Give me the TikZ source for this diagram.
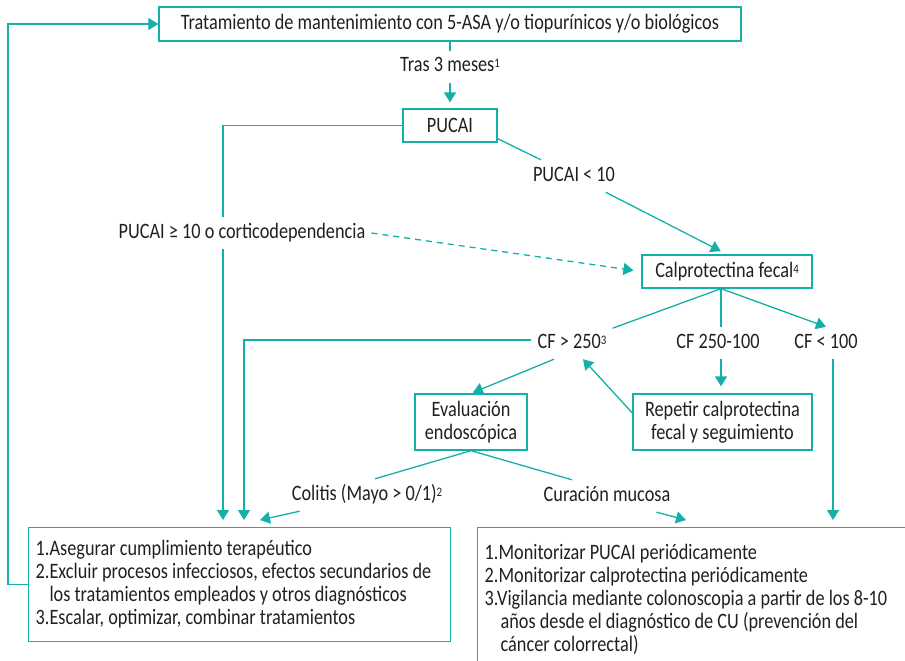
\documentclass[tikz,border=0pt]{standalone}
\usepackage{fontspec}
\setmainfont[FakeStretch=0.83]{Carlito}
\usepackage{xcolor}
\usepackage{tikz}
\usetikzlibrary{arrows.meta}
\definecolor{tealline}{HTML}{14AFA9}
\definecolor{darktext}{HTML}{231F20}
\newcommand{\sups}[1]{\raisebox{4pt}{\fontsize{13}{13}\selectfont #1}}
\tikzset{
	main node/.style={draw=tealline,line width=1.3pt,text=darktext,align=center,inner sep=0pt},
	label node/.style={text=darktext,inner sep=6pt,text height=15pt,text depth=5pt},
	list node/.style={draw=tealline,line width=1.3pt,text=darktext,align=flush left,
		inner xsep=7pt,anchor=north west},
	link/.style={draw=tealline,line width=1.3pt},
	arrow link/.style={link,->,shorten >=7pt}
}

\begin{document}
\begin{tikzpicture}[x=1pt,y=-1pt,>={Triangle[length=10pt,width=12pt]},
		font=\fontsize{22}{23}\selectfont]
	\useasboundingbox (0,0) rectangle (905,661);
	% boxes
	\node [main node,minimum width=582pt,minimum height=34pt] (top) at (450,24)
		{Tratamiento de mantenimiento con 5-ASA y/o tiopurínicos y/o biológicos};
	\node [main node,minimum width=94pt,minimum height=33pt] (pucai) at (450,125.5) {PUCAI};
	\node [main node,minimum width=170pt,minimum height=33pt] (calpro) at (727,271.5)
		{Calprotectina fecal\sups{4}};
	\node [main node,minimum width=112pt,minimum height=56pt] (evaluacion) at (471,422)
		{Evaluación\\endoscópica};
	\node [main node,minimum width=179pt,minimum height=56pt] (repetir) at (722.5,422)
		{Repetir calprotectina\\fecal y seguimiento};
	\node [list node,text width=408pt,inner ysep=13pt] (left) at (28,527)
		{1.Asegurar cumplimiento terapéutico\\
		2.Excluir procesos infecciosos, efectos secundarios de\\
		\phantom{2.}los tratamientos empleados y otros diagnósticos\\
		3.Escalar, optimizar, combinar tratamientos};
	\node [list node,text width=436pt,inner ysep=17pt] (right) at (477,527)
		{1.Monitorizar PUCAI periódicamente\\
		2.Monitorizar calprotectina periódicamente\\
		3.Vigilancia mediante colonoscopia a partir de los 8-10\\
		\hspace*{16pt}años desde el diagnóstico de CU (prevención del\\
		\hspace*{16pt}cáncer colorrectal)};
	% labels
	\node [label node] (tras) at (450,67) {Tras 3 meses\sups{1}};
	\node [label node] (pucailt) at (574,176) {PUCAI < 10};
	\node [label node] (pucaige) at (242,233) {PUCAI ≥ 10 o corticodependencia};
	\node [label node] (cfhigh) at (572,343) {CF > 250\sups{3}};
	\node [label node] (cfmid) at (718,343) {CF 250-100};
	\node [label node] (cflow) at (826,343) {CF < 100};
	\node [label node] (colitis) at (367,495) {Colitis (Mayo > 0/1)\sups{2}};
	\node [label node] (curacion) at (607,496) {Curación mucosa};
	% arrow ends above the lower boxes
	\coordinate (l1) at (223,520);
	\coordinate (l2) at (244,520);
	\coordinate (l3) at (260,520);
	\coordinate (r1) at (686,520);
	\coordinate (r2) at (833,520);
	\coordinate (cp) at ([xshift=-6pt]calpro.south);
	% connectors
	\draw [link] (top) -- (tras);
	\draw [link,->,shorten >=6pt] (tras) -- (pucai);
	\draw [link] (pucai.west) -| (pucaige.north -| l1);
	\draw [link,->] (pucaige.south -| l1) -- (l1);
	\draw [link] ([yshift=4pt]pucai.south east) -- (pucailt);
	\draw [arrow link] (pucailt) -- (calpro.north);
	\draw [link,->,dash pattern=on 6pt off 5pt,shorten >=8pt] (pucaige.east) -- (calpro.west);
	\draw [link] (cp) -- (cfhigh);
	\draw [link] (cp) -- (cp |- cfmid.north);
	\draw [link,->] (cp) -- (cflow.north);
	\draw [link,->] ([yshift=3pt]cfhigh.west) -| (l2);
	\draw [link,->] (cflow.south -| r2) -- (r2);
	\draw [arrow link] (cp |- cfmid.south) -- (cp |- repetir.north);
	\draw [link,->,shorten >=2pt] ([xshift=-18pt]cfhigh.south) -- (evaluacion.north);
	\draw [link,->] ([yshift=9pt]repetir.west) -- ([xshift=11pt]cfhigh.south);
	\draw [link] (evaluacion.south) -- ([xshift=8pt]colitis.north);
	\draw [link] (evaluacion.south) -- ([xshift=-35pt]curacion.north);
	\draw [link,->] ([xshift=14pt]colitis.south west) -- (l3);
	\draw [link,->] ([xshift=-20pt]curacion.south east) -- (r1);
	\draw [link,->] (left.west) -- ++(-20,0) |- (top.west);
\end{tikzpicture}
\end{document}
